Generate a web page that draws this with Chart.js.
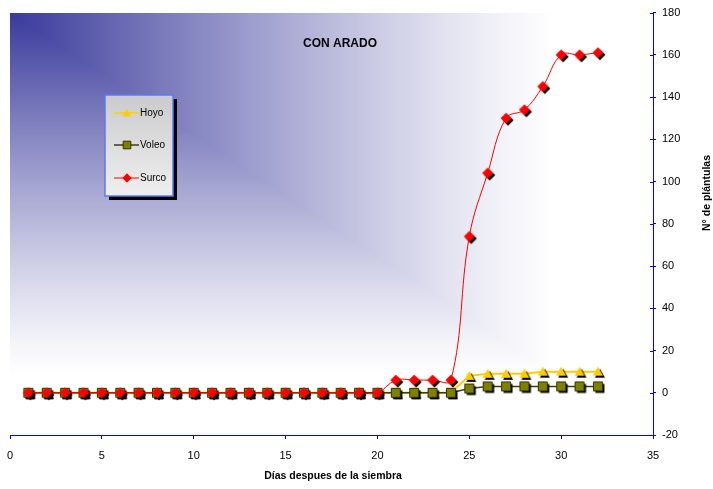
<!DOCTYPE html>
<html>
<head>
<meta charset="utf-8">
<script src="https://cdn.jsdelivr.net/npm/chart.js@4"></script>
<style>
  html, body { margin: 0; padding: 0; background: #fff; }
  canvas { display: block; }
</style>
</head>
<body>
<canvas id="chart" width="713" height="489"></canvas>
<script>
// Días después de la siembra
const days = [1, 2, 3, 4, 5, 6, 7, 8, 9, 10, 11, 12, 13, 14, 15, 16,
              17, 18, 19, 20, 21, 22, 23, 24, 25, 26, 27, 28, 29, 30, 31, 32];
// Nº de plántulas por método de siembra
const hoyo  = [0, 0, 0, 0, 0, 0, 0, 0, 0, 0, 0, 0, 0, 0, 0, 0,
               0, 0, 0, 0, 0, 0, 0, 0, 8, 9, 9, 9, 10, 10, 10, 10];
const voleo = [0, 0, 0, 0, 0, 0, 0, 0, 0, 0, 0, 0, 0, 0, 0, 0,
               0, 0, 0, 0, 0, 0, 0, 0, 2, 3, 3, 3, 3, 3, 3, 3];
const surco = [0, 0, 0, 0, 0, 0, 0, 0, 0, 0, 0, 0, 0, 0, 0, 0,
               0, 0, 0, 0, 6, 6, 6, 6, 74, 104, 130, 134, 145, 160, 160, 161];
const seriesNames = ['Hoyo', 'Voleo', 'Surco'];
const chartTitle = 'CON ARADO';
const xTitle = 'Días despues de la siembra';
const yTitle = 'N° de plántulas';

const FONT = "'Liberation Sans', Arial, sans-serif";

// marker shapes
function diamond(c, x, y, r) {
  c.beginPath(); c.moveTo(x, y - r); c.lineTo(x + r, y); c.lineTo(x, y + r); c.lineTo(x - r, y); c.closePath();
}
function square(c, x, y, r) {
  c.beginPath(); c.rect(x - r, y - r, 2 * r, 2 * r);
}
function triangle(c, x, y, r) {
  c.beginPath(); c.moveTo(x, y - r); c.lineTo(x + r, y + r * 0.8); c.lineTo(x - r, y + r * 0.8); c.closePath();
}
function drawMarker(c, m, x, y, withShadow) {
  if (withShadow) {
    c.fillStyle = '#000';
    m.shape(c, x + 2, y + 2, m.r);
    c.fill();
  }
  c.fillStyle = m.fill;
  m.shape(c, x, y, m.r);
  c.fill();
  if (m.stroke) { c.strokeStyle = m.stroke; c.lineWidth = 1; c.stroke(); }
}
function markerCanvas(m) {
  const size = 2 * Math.ceil(m.r + 4);
  const cv = document.createElement('canvas');
  cv.width = size; cv.height = size;
  drawMarker(cv.getContext('2d'), m, size / 2, size / 2, true);
  return cv;
}

const markers = {
  Hoyo:  { shape: triangle, r: 5,   fill: '#ffcc00', stroke: null },
  Voleo: { shape: square,   r: 4.5, fill: '#808000', stroke: '#333300' },
  Surco: { shape: diamond,  r: 5.5, fill: '#ff0000', stroke: null }
};
const lineColors = { Hoyo: '#ffcc00', Voleo: '#3d3d10', Surco: '#ff0000' };
const lineWidths = { Hoyo: 2, Voleo: 1.5, Surco: 1 };

const toPoints = vals => days.map((d, i) => ({ x: d, y: vals[i] }));

// plot area background: corner gradient from deep blue to white
const backgroundPlugin = {
  id: 'cornerGradient',
  beforeDraw(chart) {
    const { ctx, chartArea: a } = chart;
    ctx.save();
    ctx.fillStyle = '#fff';
    ctx.fillRect(0, 0, chart.width, chart.height);
    const x0 = Math.round(a.left), y0 = Math.round(a.top);
    const w = Math.round(a.right) - x0, h = Math.round(a.bottom) - y0;
    const img = ctx.createImageData(w, h);
    const W = w * 0.85, H = h * 0.86;
    for (let j = 0; j < h; j++) {
      for (let i = 0; i < w; i++) {
        const t = Math.min(1, Math.max(i / W, j / H));
        const s = Math.pow(1 - t, 1.2);
        const k = (j * w + i) * 4;
        img.data[k] = 255 - 197 * s;
        img.data[k + 1] = 255 - 197 * s;
        img.data[k + 2] = 255 - 99 * s;
        img.data[k + 3] = 255;
      }
    }
    ctx.putImageData(img, x0, y0);
    ctx.restore();
  }
};

// titles, inner tick marks and the boxed legend
const decorPlugin = {
  id: 'decor',
  afterDraw(chart) {
    const { ctx, chartArea: a, scales } = chart;
    ctx.save();

    // y ticks crossing into the plot
    ctx.strokeStyle = '#0000ff';
    ctx.lineWidth = 1;
    scales.y.ticks.forEach(t => {
      const py = Math.round(scales.y.getPixelForValue(t.value)) + 0.5;
      ctx.beginPath(); ctx.moveTo(a.right - 3, py); ctx.lineTo(a.right, py); ctx.stroke();
    });

    ctx.fillStyle = '#000';
    ctx.textAlign = 'center';
    ctx.textBaseline = 'middle';

    ctx.font = 'bold 12px ' + FONT;
    ctx.fillText(chartTitle, 340, 44);

    ctx.font = 'bold 10.5px ' + FONT;
    ctx.fillText(xTitle, 333, 476);

    ctx.save();
    ctx.translate(707, 193);
    ctx.rotate(-Math.PI / 2);
    ctx.font = 'bold 10.5px ' + FONT;
    ctx.fillText(yTitle, 0, 0);
    ctx.restore();

    // legend box
    const bx = 105, by = 95, bw = 68, bh = 101;
    ctx.fillStyle = '#000';
    ctx.fillRect(bx + 4, by + 4, bw, bh);
    const g = ctx.createLinearGradient(0, by, 0, by + bh);
    g.addColorStop(0, '#cbcbcd');
    g.addColorStop(1, '#efefef');
    ctx.fillStyle = g;
    ctx.fillRect(bx, by, bw, bh);
    ctx.strokeStyle = '#5a78ff';
    ctx.lineWidth = 1.5;
    ctx.strokeRect(bx, by, bw, bh);

    const rows = [113, 145, 178];
    ctx.font = '10px ' + FONT;
    ctx.textAlign = 'left';
    seriesNames.forEach((name, i) => {
      const y = rows[i];
      ctx.strokeStyle = lineColors[name];
      ctx.lineWidth = lineWidths[name] === 1 ? 1 : 1.5;
      ctx.beginPath(); ctx.moveTo(114, y); ctx.lineTo(139, y); ctx.stroke();
      const m = Object.assign({}, markers[name], { r: markers[name].r * 0.85 });
      drawMarker(ctx, m, 127, y, false);
      ctx.fillStyle = '#000';
      ctx.fillText(name, 140, y);
    });

    ctx.restore();
  }
};

const tickFont = { family: FONT, size: 11 };

new Chart(document.getElementById('chart'), {
  type: 'line',
  data: {
    datasets: [
      { label: seriesNames[0], data: toPoints(hoyo), borderColor: lineColors.Hoyo, borderWidth: lineWidths.Hoyo,
        pointStyle: markerCanvas(markers.Hoyo), pointRadius: 5, tension: 0, order: 3 },
      { label: seriesNames[1], data: toPoints(voleo), borderColor: lineColors.Voleo, borderWidth: lineWidths.Voleo,
        pointStyle: markerCanvas(markers.Voleo), pointRadius: 5, tension: 0, order: 2 },
      { label: seriesNames[2], data: toPoints(surco), borderColor: lineColors.Surco, borderWidth: lineWidths.Surco,
        pointStyle: markerCanvas(markers.Surco), pointRadius: 5, tension: 0.4, order: 1 }
    ]
  },
  options: {
    responsive: false,
    animation: false,
    devicePixelRatio: 1,
    layout: { padding: { left: 10, top: 12, right: 0, bottom: 0 } },
    plugins: { legend: { display: false }, tooltip: { enabled: false } },
    scales: {
      x: {
        type: 'linear', min: 0, max: 35,
        ticks: { stepSize: 5, color: '#000', font: tickFont, padding: 10, maxRotation: 0 },
        grid: { drawOnChartArea: false, color: '#0000ff', tickLength: 4 },
        border: { color: '#0000ff', width: 1 },
        afterFit(s) { s.height = 54; s.paddingLeft = 0; s.paddingRight = 0; }
      },
      y: {
        position: 'right', min: -20, max: 180,
        ticks: { stepSize: 20, color: '#000', font: tickFont, padding: 6 },
        grid: { drawOnChartArea: false, color: '#0000ff', tickLength: 3 },
        border: { color: '#0000ff', width: 1 },
        afterFit(s) { s.width = 60; }
      }
    }
  },
  plugins: [backgroundPlugin, decorPlugin]
});
</script>
</body>
</html>
